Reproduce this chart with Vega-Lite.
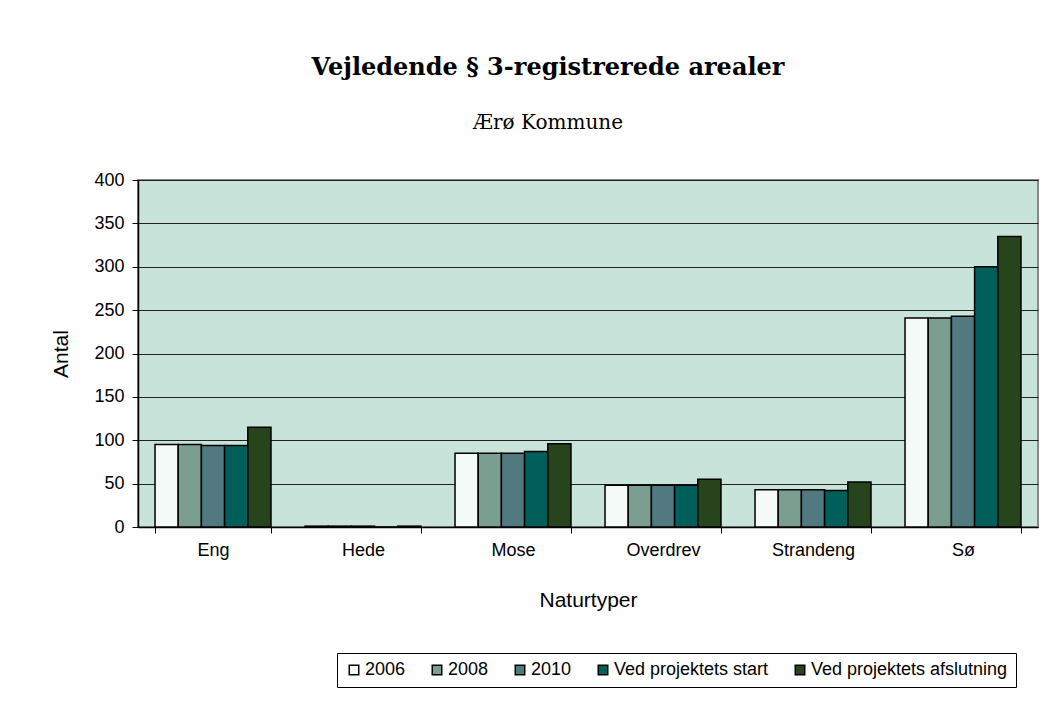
{
  "$schema": "https://vega.github.io/schema/vega-lite/v6.json",
  "autosize": {"type": "none"},
  "padding": {"left": 138, "top": 180, "right": 17, "bottom": 178},
  "width": 900,
  "height": 347,
  "background": "white",
  "title": {
    "text": "Vejledende § 3-registrerede arealer",
    "subtitle": "Ærø Kommune",
    "anchor": "middle",
    "dx": -40,
    "offset": 38,
    "font": "DejaVu Serif",
    "fontSize": 24,
    "fontWeight": "bold",
    "color": "black",
    "subtitleFont": "DejaVu Serif",
    "subtitleFontSize": 20,
    "subtitleColor": "black",
    "subtitlePadding": 33
  },
  "data": {
    "values": [
      {"type": "Eng", "serie": "2006", "antal": 95},
      {"type": "Eng", "serie": "2008", "antal": 95},
      {"type": "Eng", "serie": "2010", "antal": 94},
      {"type": "Eng", "serie": "Ved projektets start", "antal": 94},
      {"type": "Eng", "serie": "Ved projektets afslutning", "antal": 115},
      {"type": "Hede", "serie": "2006", "antal": 1},
      {"type": "Hede", "serie": "2008", "antal": 1},
      {"type": "Hede", "serie": "2010", "antal": 1},
      {"type": "Hede", "serie": "Ved projektets start", "antal": 0},
      {"type": "Hede", "serie": "Ved projektets afslutning", "antal": 1},
      {"type": "Mose", "serie": "2006", "antal": 85},
      {"type": "Mose", "serie": "2008", "antal": 85},
      {"type": "Mose", "serie": "2010", "antal": 85},
      {"type": "Mose", "serie": "Ved projektets start", "antal": 87},
      {"type": "Mose", "serie": "Ved projektets afslutning", "antal": 96},
      {"type": "Overdrev", "serie": "2006", "antal": 48},
      {"type": "Overdrev", "serie": "2008", "antal": 48},
      {"type": "Overdrev", "serie": "2010", "antal": 48},
      {"type": "Overdrev", "serie": "Ved projektets start", "antal": 48},
      {"type": "Overdrev", "serie": "Ved projektets afslutning", "antal": 55},
      {"type": "Strandeng", "serie": "2006", "antal": 43},
      {"type": "Strandeng", "serie": "2008", "antal": 43},
      {"type": "Strandeng", "serie": "2010", "antal": 43},
      {"type": "Strandeng", "serie": "Ved projektets start", "antal": 42},
      {"type": "Strandeng", "serie": "Ved projektets afslutning", "antal": 52},
      {"type": "Sø", "serie": "2006", "antal": 241},
      {"type": "Sø", "serie": "2008", "antal": 241},
      {"type": "Sø", "serie": "2010", "antal": 243},
      {"type": "Sø", "serie": "Ved projektets start", "antal": 300},
      {"type": "Sø", "serie": "Ved projektets afslutning", "antal": 335}
    ]
  },
  "mark": {"type": "bar", "stroke": "black", "strokeWidth": 1.5},
  "encoding": {
    "x": {
      "field": "type",
      "type": "nominal",
      "sort": ["Eng", "Hede", "Mose", "Overdrev", "Strandeng", "Sø"],
      "scale": {"paddingInner": 0.227, "paddingOuter": 0.1135},
      "axis": {
        "title": "Naturtyper",
        "labelAngle": 0,
        "tickBand": "extent",
        "tickSize": 6,
        "tickColor": "black",
        "domainColor": "black",
        "domainWidth": 1.5,
        "labelFont": "Liberation Sans",
        "labelFontSize": 18,
        "labelColor": "black",
        "labelPadding": 8,
        "titleFont": "Liberation Sans",
        "titleFontSize": 21,
        "titleFontWeight": "normal",
        "titleColor": "black",
        "titlePadding": 30
      }
    },
    "xOffset": {
      "field": "serie",
      "type": "nominal",
      "sort": ["2006", "2008", "2010", "Ved projektets start", "Ved projektets afslutning"],
      "scale": {"paddingInner": 0, "paddingOuter": 0}
    },
    "y": {
      "field": "antal",
      "type": "quantitative",
      "scale": {"domain": [0, 400], "nice": false},
      "axis": {
        "title": "Antal",
        "values": [0, 50, 100, 150, 200, 250, 300, 350, 400],
        "grid": true,
        "gridColor": "#222222",
        "gridWidth": 1,
        "gridOpacity": 1,
        "tickSize": 6,
        "tickColor": "black",
        "domainColor": "black",
        "domainWidth": 1.5,
        "labelFont": "Liberation Sans",
        "labelFontSize": 18,
        "labelColor": "black",
        "labelPadding": 8,
        "titleFont": "Liberation Sans",
        "titleFontSize": 21,
        "titleFontWeight": "normal",
        "titleColor": "black",
        "titlePadding": 22
      }
    },
    "fill": {
      "field": "serie",
      "type": "nominal",
      "sort": ["2006", "2008", "2010", "Ved projektets start", "Ved projektets afslutning"],
      "scale": {
        "domain": ["2006", "2008", "2010", "Ved projektets start", "Ved projektets afslutning"],
        "range": ["#F4FAF7", "#7A9E90", "#527880", "#005F5A", "#27441C"]
      },
      "legend": {
        "title": null,
        "orient": "none",
        "legendX": 199,
        "legendY": 473,
        "direction": "horizontal",
        "columns": 5,
        "symbolType": "square",
        "symbolSize": 90,
        "symbolStrokeColor": "black",
        "symbolStrokeWidth": 1.5,
        "labelFont": "Liberation Sans",
        "labelFontSize": 18,
        "labelColor": "black",
        "labelOffset": 2,
        "columnPadding": 22,
        "labelLimit": 300,
        "padding": 8,
        "strokeColor": "black",
        "fillColor": "white"
      }
    }
  },
  "config": {
    "view": {"fill": "#C8E3DA", "stroke": "#888888", "strokeWidth": 2},
    "axis": {"gridCap": "butt"}
  }
}
